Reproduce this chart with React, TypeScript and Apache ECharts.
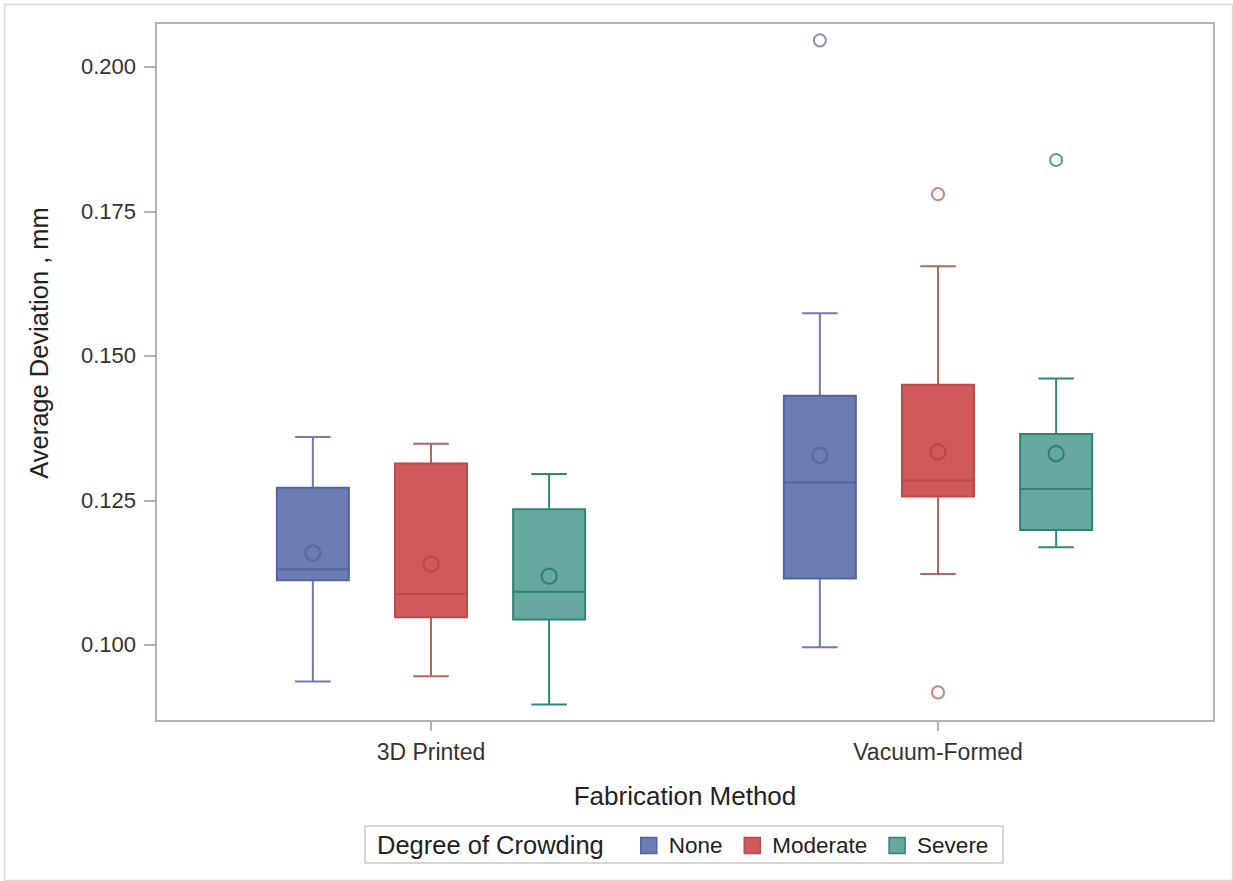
import React, { useEffect, useRef } from "react";
import * as echarts from "echarts";

const categories = ["3D Printed", "Vacuum-Formed"];
const levels = ["None", "Moderate", "Severe"];
const yTicks = [0.1, 0.125, 0.15, 0.175, 0.2];

// [min, q1, median, q3, max] per category
const noneBox = [
  [0.0937, 0.1112, 0.1131, 0.1272, 0.136],
  [0.0996, 0.1115, 0.1281, 0.1431, 0.1574],
];
const moderateBox = [
  [0.0946, 0.1048, 0.1088, 0.1314, 0.1348],
  [0.1123, 0.1257, 0.1285, 0.145, 0.1655],
];
const severeBox = [
  [0.0897, 0.1044, 0.1092, 0.1235, 0.1296],
  [0.1169, 0.1199, 0.127, 0.1365, 0.1461],
];
const noneMean = [0.1159, 0.1328];
const moderateMean = [0.114, 0.1334];
const severeMean = [0.1119, 0.1331];
// [category index, value]
const noneOutliers = [[1, 0.2046]];
const moderateOutliers = [
  [1, 0.0918],
  [1, 0.178],
];
const severeOutliers = [[1, 0.1839]];

const FONT = "'Liberation Sans', Arial, Helvetica, sans-serif";

const palette = [
  { fill: "#6D7DB3", border: "#5464A3", whisker: "#6F7BB2", mean: "#5363A6", out: "#6A76B0" },
  { fill: "#D05A5A", border: "#BC4A4A", whisker: "#B5665D", mean: "#B5443D", out: "#BF655D" },
  { fill: "#66A89E", border: "#2F8373", whisker: "#2E887A", mean: "#1E7565", out: "#2A8A7A" },
];

const offsets = [-0.233, 0, 0.233];
const boxHalf = 0.071;
const capHalf = 0.035;

export default function App() {
  const ref = useRef<HTMLDivElement>(null);
  useEffect(() => {
    if (!ref.current) return;
    const chart = echarts.init(ref.current, null, { renderer: "svg" });
    const boxes = [noneBox, moderateBox, severeBox];
    const means = [noneMean, moderateMean, severeMean];
    const outliers = [noneOutliers, moderateOutliers, severeOutliers];

    const series: any[] = [];
    levels.forEach((lvl, li) => {
      const col = palette[li];
      series.push({
        name: lvl,
        type: "custom",
        itemStyle: { color: col.fill, borderColor: col.border },
        data: boxes[li].map((b, ci) => [ci + 1 + offsets[li], ...b]),
        renderItem: (params: any, api: any) => {
          const x = api.value(0);
          const mn = api.value(1);
          const q1 = api.value(2);
          const md = api.value(3);
          const q3 = api.value(4);
          const mx = api.value(5);
          const c = api.coord([x, md]);
          const pMin = api.coord([x, mn]);
          const pMax = api.coord([x, mx]);
          const pQ1 = api.coord([x, q1]);
          const pQ3 = api.coord([x, q3]);
          const l = api.coord([x - boxHalf, md])[0];
          const r = api.coord([x + boxHalf, md])[0];
          const cl = api.coord([x - capHalf, md])[0];
          const cr = api.coord([x + capHalf, md])[0];
          const wStyle = { stroke: col.whisker, lineWidth: 2 };
          return {
            type: "group",
            children: [
              { type: "line", shape: { x1: c[0], y1: pMax[1], x2: c[0], y2: pQ3[1] }, style: wStyle },
              { type: "line", shape: { x1: c[0], y1: pQ1[1], x2: c[0], y2: pMin[1] }, style: wStyle },
              { type: "line", shape: { x1: cl, y1: pMax[1], x2: cr, y2: pMax[1] }, style: wStyle },
              { type: "line", shape: { x1: cl, y1: pMin[1], x2: cr, y2: pMin[1] }, style: wStyle },
              {
                type: "rect",
                shape: { x: l, y: pQ3[1], width: r - l, height: pQ1[1] - pQ3[1] },
                style: { fill: col.fill, stroke: col.border, lineWidth: 2 },
              },
              {
                type: "line",
                shape: { x1: l, y1: c[1], x2: r, y2: c[1] },
                style: { stroke: col.border, lineWidth: 2 },
              },
            ],
          };
        },
        z: 2,
      });
      series.push({
        name: lvl + " mean",
        type: "scatter",
        symbol: "circle",
        symbolSize: 15,
        itemStyle: { color: "rgba(0,0,0,0)", borderColor: col.mean, borderWidth: 2 },
        data: means[li].map((m, ci) => [ci + 1 + offsets[li], m]),
        z: 3,
      });
      series.push({
        name: lvl + " outliers",
        type: "scatter",
        symbol: "circle",
        symbolSize: 12,
        itemStyle: { color: "rgba(0,0,0,0)", borderColor: col.out, borderWidth: 2 },
        data: outliers[li].map((o) => [o[0] + 1 + offsets[li], o[1]]),
        z: 3,
      });
    });

    chart.setOption({
      animation: false,
      backgroundColor: "#ffffff",
      textStyle: { fontFamily: FONT },
      grid: {
        left: 156,
        right: 19,
        top: 23,
        bottom: 160,
        show: true,
        borderColor: "#b3b3b3",
        borderWidth: 2,
        containLabel: false,
      },
      xAxis: {
        type: "value",
        min: 0.4576,
        max: 2.5444,
        splitLine: { show: false },
        axisLine: { show: false },
        axisTick: {
          show: true,
          length: 10,
          customValues: [1, 2],
          lineStyle: { color: "#9a9a9a", width: 1.5 },
        },
        axisLabel: {
          customValues: [1, 2],
          formatter: (v: number) => categories[Math.round(v) - 1] || "",
          fontSize: 23,
          color: "#333333",
          margin: 19,
          fontFamily: FONT,
        },
        name: "Fabrication Method",
        nameLocation: "middle",
        nameGap: 62,
        nameTextStyle: { fontSize: 26, color: "#222222", fontFamily: FONT },
      },
      yAxis: {
        type: "value",
        min: 0.08685,
        max: 0.2076,
        splitLine: { show: false },
        axisLine: { show: false },
        axisTick: {
          show: true,
          length: 12,
          customValues: yTicks,
          lineStyle: { color: "#9a9a9a", width: 1.5 },
        },
        axisLabel: {
          customValues: yTicks,
          formatter: (v: number) => v.toFixed(3),
          fontSize: 22,
          color: "#333333",
          margin: 20,
          fontFamily: FONT,
        },
        name: "Average Deviation , mm",
        nameLocation: "middle",
        nameGap: 104,
        nameTextStyle: { fontSize: 25.5, color: "#222222", fontFamily: FONT, padding: [0, 0, 0, 58] },
      },
      legend: {
        data: levels.map((l, i) => ({
          name: l,
          icon: "rect",
          itemStyle: { color: palette[i].fill, borderColor: palette[i].border, borderWidth: 1.5 },
        })),
        left: 640,
        top: 834,
        padding: 0,
        itemWidth: 16,
        itemHeight: 16,
        itemGap: 21,
        selectedMode: false,
        textStyle: { fontSize: 22.5, color: "#222222", fontFamily: FONT, padding: [0, 0, 0, 7] },
      },
      graphic: [
        {
          type: "rect",
          left: 2,
          top: 2,
          shape: { width: 1228, height: 876 },
          style: { fill: "none", stroke: "#d9d9d9", lineWidth: 1.5 },
          silent: true,
        },
        {
          type: "rect",
          shape: { x: 365, y: 826, width: 638, height: 37 },
          style: { fill: "none", stroke: "#c8c8c8", lineWidth: 1.5 },
          silent: true,
        },
        {
          type: "text",
          x: 377,
          y: 845,
          style: {
            text: "Degree of Crowding",
            fontSize: 25.5,
            fontFamily: FONT,
            fill: "#222222",
            textVerticalAlign: "middle",
            textAlign: "left",
          },
          silent: true,
        },
      ],
      series,
    });
    return () => chart.dispose();
  }, []);
  return (
    <div
      ref={ref}
      style={{ position: "absolute", left: 0, top: 0, width: 1233, height: 881, background: "#fff" }}
    />
  );
}
